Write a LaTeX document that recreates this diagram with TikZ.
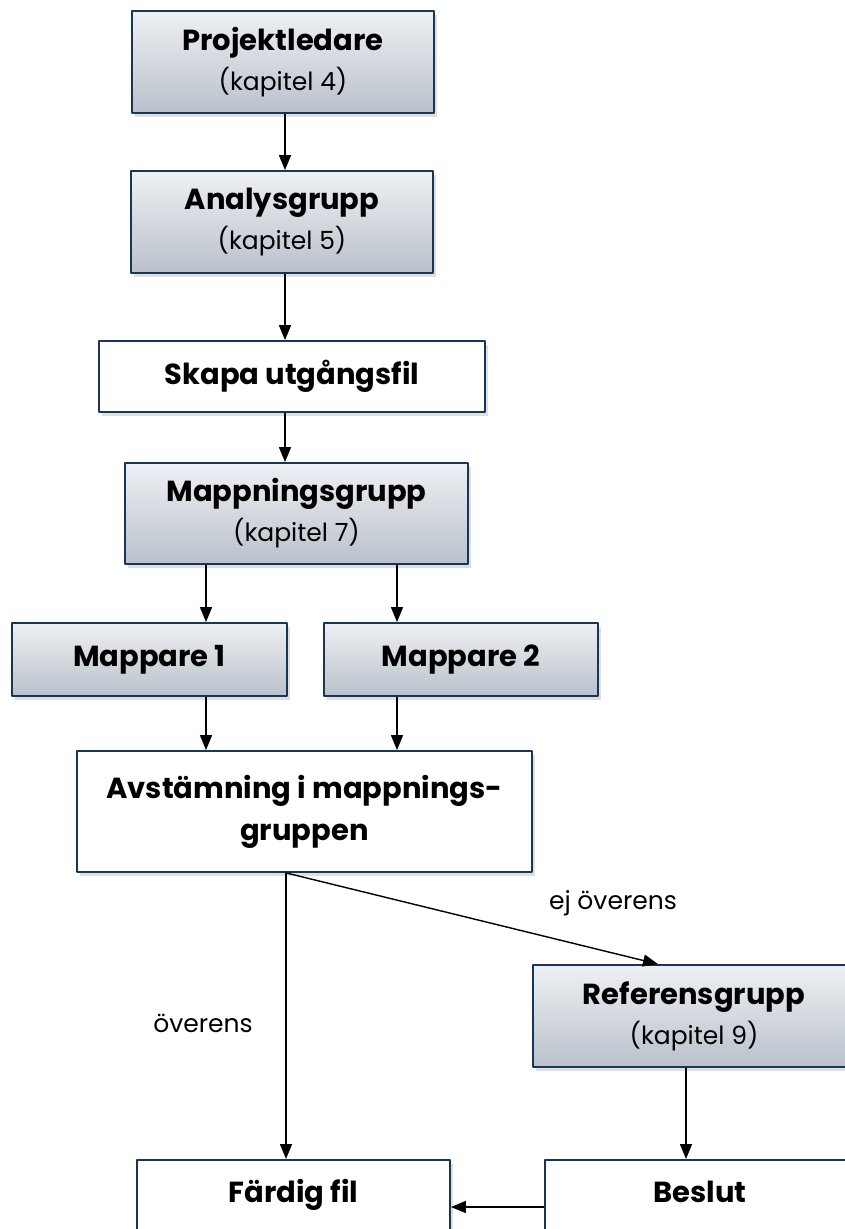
\documentclass[tikz,border=0pt]{standalone}
\usepackage{fontspec}
\setmainfont{Poppins}
\usetikzlibrary{arrows.meta,shadows}
\definecolor{boxline}{RGB}{23,54,88}
\definecolor{gtop}{RGB}{238,240,243}
\definecolor{gbot}{RGB}{186,193,203}
\newcommand{\kap}[1]{{\mdseries\fontsize{25}{31}\selectfont(kapitel #1)}}
\begin{document}
\begin{tikzpicture}[x=1pt, y=-1pt, line join=round, >={Triangle[length=15pt,width=12pt]},
  graybox/.style={draw=boxline, line width=1.8pt, top color=gtop, bottom color=gbot, align=center, inner sep=0pt,
    drop shadow={shadow xshift=3pt, shadow yshift=-4pt, opacity=.25}, font=\fontsize{29}{35}\selectfont\bfseries},
  whitebox/.style={graybox, top color=white, bottom color=white},
  lbl/.style={font=\fontsize{25}{30}\selectfont}]
\useasboundingbox (0,0) rectangle (845,1229);
\node[graybox, minimum width=302pt, minimum height=102pt] (proj) at (283,62) {Projektledare\\[5pt]\kap{4}};
\node[graybox, minimum width=302pt, minimum height=102pt] (anal) at (282,222) {Analysgrupp\\[5pt]\kap{5}};
\node[whitebox, minimum width=386pt, minimum height=71pt] (skapa) at (292,376.5) {Skapa utgångsfil};
\node[graybox, minimum width=343pt, minimum height=101pt] (mapg) at (296.5,513.5) {Mappningsgrupp\\[5pt]\kap{7}};
\node[graybox, minimum width=275pt, minimum height=73pt] (map1) at (149.5,659.5) {Mappare 1};
\node[graybox, minimum width=274pt, minimum height=73pt] (map2) at (461,659.5) {Mappare 2};
\node[whitebox, minimum width=455pt, minimum height=121pt] (avst) at (304.5,811.5) {Avstämning i mappnings-\\[7pt]gruppen};
\node[graybox, minimum width=322pt, minimum height=102pt] (ref) at (694,1016) {Referensgrupp\\[5pt]\kap{9}};
\node[whitebox, anchor=north, minimum width=313pt, text height=43pt, text depth=50pt] (fard) at (293.5,1159) {Färdig fil};
\node[whitebox, anchor=north, minimum width=310pt, text height=43pt, text depth=50pt] (beslut) at (700,1159) {Beslut};
\coordinate (mitt) at (285,0);
\coordinate (v1) at (206,0);
\coordinate (v2) at (397,0);
\coordinate (ut) at (286,0);
\coordinate (ned) at (686,0);
\draw[->, line width=1.4pt] (proj.south -| mitt) -- (anal.north -| mitt);
\draw[->, line width=1.4pt] (anal.south -| mitt) -- (skapa.north -| mitt);
\draw[->, line width=1.4pt] (skapa.south -| mitt) -- (mapg.north -| mitt);
\draw[->, line width=1.4pt] (mapg.south -| v1) -- (map1.north -| v1);
\draw[->, line width=1.4pt] (mapg.south -| v2) -- (map2.north -| v2);
\draw[->, line width=1.4pt] (map1.south -| v1) -- (avst.north -| v1);
\draw[->, line width=1.4pt] (map2.south -| v2) -- (avst.north -| v2);
\draw[->, line width=1.4pt] (avst.south -| ut) -- (fard.north -| ut);
\draw[->, line width=1.4pt] (avst.south -| ut) -- ([xshift=-36pt]ref.north);
\draw[->, line width=1.4pt] (ref.south -| ned) -- (beslut.north -| ned);
\draw[->, line width=1.4pt] ([yshift=-48pt]beslut.north west) -- ([yshift=-48pt]fard.north east);
\node[lbl] (ej) at (613,903) {ej överens};
\node[lbl] (ok) at (203,1023) {överens};
\end{tikzpicture}
\end{document}
